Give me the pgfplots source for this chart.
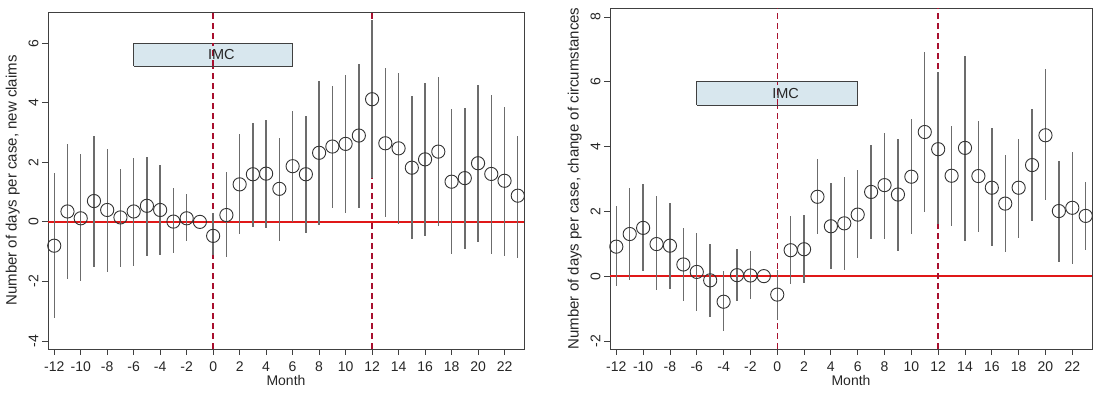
\documentclass[border=0pt]{standalone}
\usepackage{pgfplots}
\usepackage{pgfplotstable}
\usepackage{fontspec}
\setmainfont{Liberation Sans}
\pgfplotsset{compat=1.18}
\definecolor{barc}{HTML}{6C6C6C}
\definecolor{vlinedark}{HTML}{A8102E}
\definecolor{zlinered}{HTML}{E01818}
\definecolor{boxfill}{HTML}{D8E7EE}
\definecolor{framec}{HTML}{404040}
\definecolor{txt}{HTML}{262626}

\pgfplotstableread{
m y hi lo
-12 -0.80 1.64 -3.22
-11 0.35 2.60 -1.93
-10 0.12 2.28 -2.00
-9 0.70 2.90 -1.50
-8 0.40 2.44 -1.67
-7 0.15 1.78 -1.52
-6 0.35 2.16 -1.48
-5 0.54 2.19 -1.13
-4 0.40 1.91 -1.10
-3 0.01 1.13 -1.05
-2 0.12 0.92 -0.64
-1 0.00 0.00 0.00
0 -0.47 0.29 -1.10
1 0.23 1.66 -1.19
2 1.26 2.95 -0.41
3 1.60 3.31 -0.18
4 1.62 3.42 -0.20
5 1.11 2.81 -0.63
6 1.87 3.72 -0.01
7 1.60 3.57 -0.38
8 2.32 4.73 -0.10
9 2.53 4.58 0.45
10 2.62 4.93 0.29
11 2.90 5.32 0.46
12 4.12 6.78 1.48
13 2.64 5.16 0.18
14 2.47 5.01 -0.08
15 1.82 4.23 -0.57
16 2.10 4.66 -0.46
17 2.36 4.88 -0.13
18 1.35 3.80 -1.08
19 1.47 3.84 -0.91
20 1.97 4.60 -0.68
21 1.61 4.27 -1.07
22 1.38 3.87 -1.13
23 0.88 2.90 -1.20
}\newclaims

\pgfplotstableread{
m y hi lo
-12 0.91 2.16 -0.30
-11 1.30 2.71 -0.12
-10 1.49 2.86 0.15
-9 0.99 2.47 -0.43
-8 0.94 2.27 -0.40
-7 0.36 1.50 -0.77
-6 0.13 1.34 -1.08
-5 -0.13 0.99 -1.26
-4 -0.79 0.15 -1.69
-3 0.03 0.83 -0.76
-2 0.02 0.78 -0.72
-1 0.00 0.00 0.00
0 -0.57 0.20 -1.35
1 0.80 1.86 -0.23
2 0.83 1.88 -0.20
3 2.45 3.63 1.30
4 1.54 2.88 0.22
5 1.63 3.06 0.20
6 1.90 3.27 0.55
7 2.60 4.04 1.16
8 2.81 4.43 1.16
9 2.52 4.23 0.77
10 3.07 4.85 1.30
11 4.45 6.92 1.97
12 3.92 6.31 1.60
13 3.10 4.65 1.55
14 3.96 6.80 1.09
15 3.09 4.79 1.37
16 2.73 4.56 0.93
17 2.24 3.73 0.75
18 2.73 4.23 1.19
19 3.43 5.15 1.70
20 4.35 6.39 2.35
21 2.01 3.55 0.44
22 2.11 3.84 0.37
23 1.86 2.91 0.80
}\changecirc

\pgfplotsset{
  panel/.style={
    scale only axis,
    anchor=south west,
    axis line style={framec, line width=0.9pt},
    tick style={framec, line width=0.8pt},
    tick align=outside,
    major tick length=6pt,
    xtick pos=bottom, ytick pos=left,
    xtick={-12,-10,...,22},
    xmin=-12.47, xmax=23.47,
    /pgf/number format/assume math mode=true,
    tick label style={font=\fontsize{14}{16}\selectfont, text=txt},
    xticklabel style={yshift=-3pt},
    yticklabel style={rotate=90, anchor=south},
    xlabel={Month},
    xlabel style={font=\fontsize{14}{16}\selectfont, text=txt, yshift=3pt},
    ylabel style={font=\fontsize{15}{17}\selectfont, text=txt, yshift=2pt},
    clip=false,
  },
  ebars/.style={
    only marks,
    mark=o,
    mark size=6.6pt,
    mark options={draw=black!80, line width=0.9pt, fill=none},
    error bars/.cd,
      y dir=both, y explicit,
      error mark=none,
      error bar style={barc, line width=1.4pt},
  },
  zeroline/.style={draw=zlinered, line width=1.3pt},
  eventline/.style={draw=vlinedark, line width=1.4pt, dash pattern=on 6pt off 4pt},
}

\begin{document}
\begin{tikzpicture}
\useasboundingbox (0,0) rectangle (1100pt,393pt);

% ---------------- left panel ----------------
\begin{axis}[panel,
  at={(48pt,44pt)}, width=476pt, height=337pt,
  ymin=-4.27, ymax=7.05,
  ytick={-4,-2,...,6},
  ylabel={Number of days per case, new claims},
]
\addplot[eventline] coordinates {(0,-4.27) (0,7.05)};
\addplot[zeroline] coordinates {(-12.47,0) (23.47,0)};
\addplot[eventline] coordinates {(12,-4.27) (12,7.05)};
\addplot[ebars] table[x=m, y=y, y error plus expr=\thisrow{hi}-\thisrow{y}, y error minus expr=\thisrow{y}-\thisrow{lo}] {\newclaims};
\addplot[draw=framec, fill=boxfill, line width=0.9pt] coordinates {(-6,5.23) (6,5.23) (6,6) (-6,6) (-6,5.23)};
\addplot[eventline] coordinates {(0,5.23) (0,6)};
\node[font=\fontsize{14.5}{16}\selectfont, text=txt] at (axis cs:0.62,5.62) {IMC};
\end{axis}

% ---------------- right panel ----------------
\begin{axis}[panel,
  at={(610pt,44pt)}, width=482pt, height=341pt,
  ymin=-2.25, ymax=8.28,
  ytick={-2,0,...,8},
  ylabel={Number of days per case, change of circumstances},
]
\addplot[eventline] coordinates {(0,-2.25) (0,8.28)};
\addplot[zeroline] coordinates {(-12.47,0) (23.47,0)};
\addplot[eventline] coordinates {(12,-2.25) (12,8.28)};
\addplot[ebars] table[x=m, y=y, y error plus expr=\thisrow{hi}-\thisrow{y}, y error minus expr=\thisrow{y}-\thisrow{lo}] {\changecirc};
\addplot[draw=framec, fill=boxfill, line width=0.9pt] coordinates {(-6,5.28) (6,5.28) (6,6) (-6,6) (-6,5.28)};
\addplot[eventline] coordinates {(0,5.28) (0,6)};
\node[font=\fontsize{14.5}{16}\selectfont, text=txt] at (axis cs:0.62,5.64) {IMC};
\end{axis}
\end{tikzpicture}
\end{document}
